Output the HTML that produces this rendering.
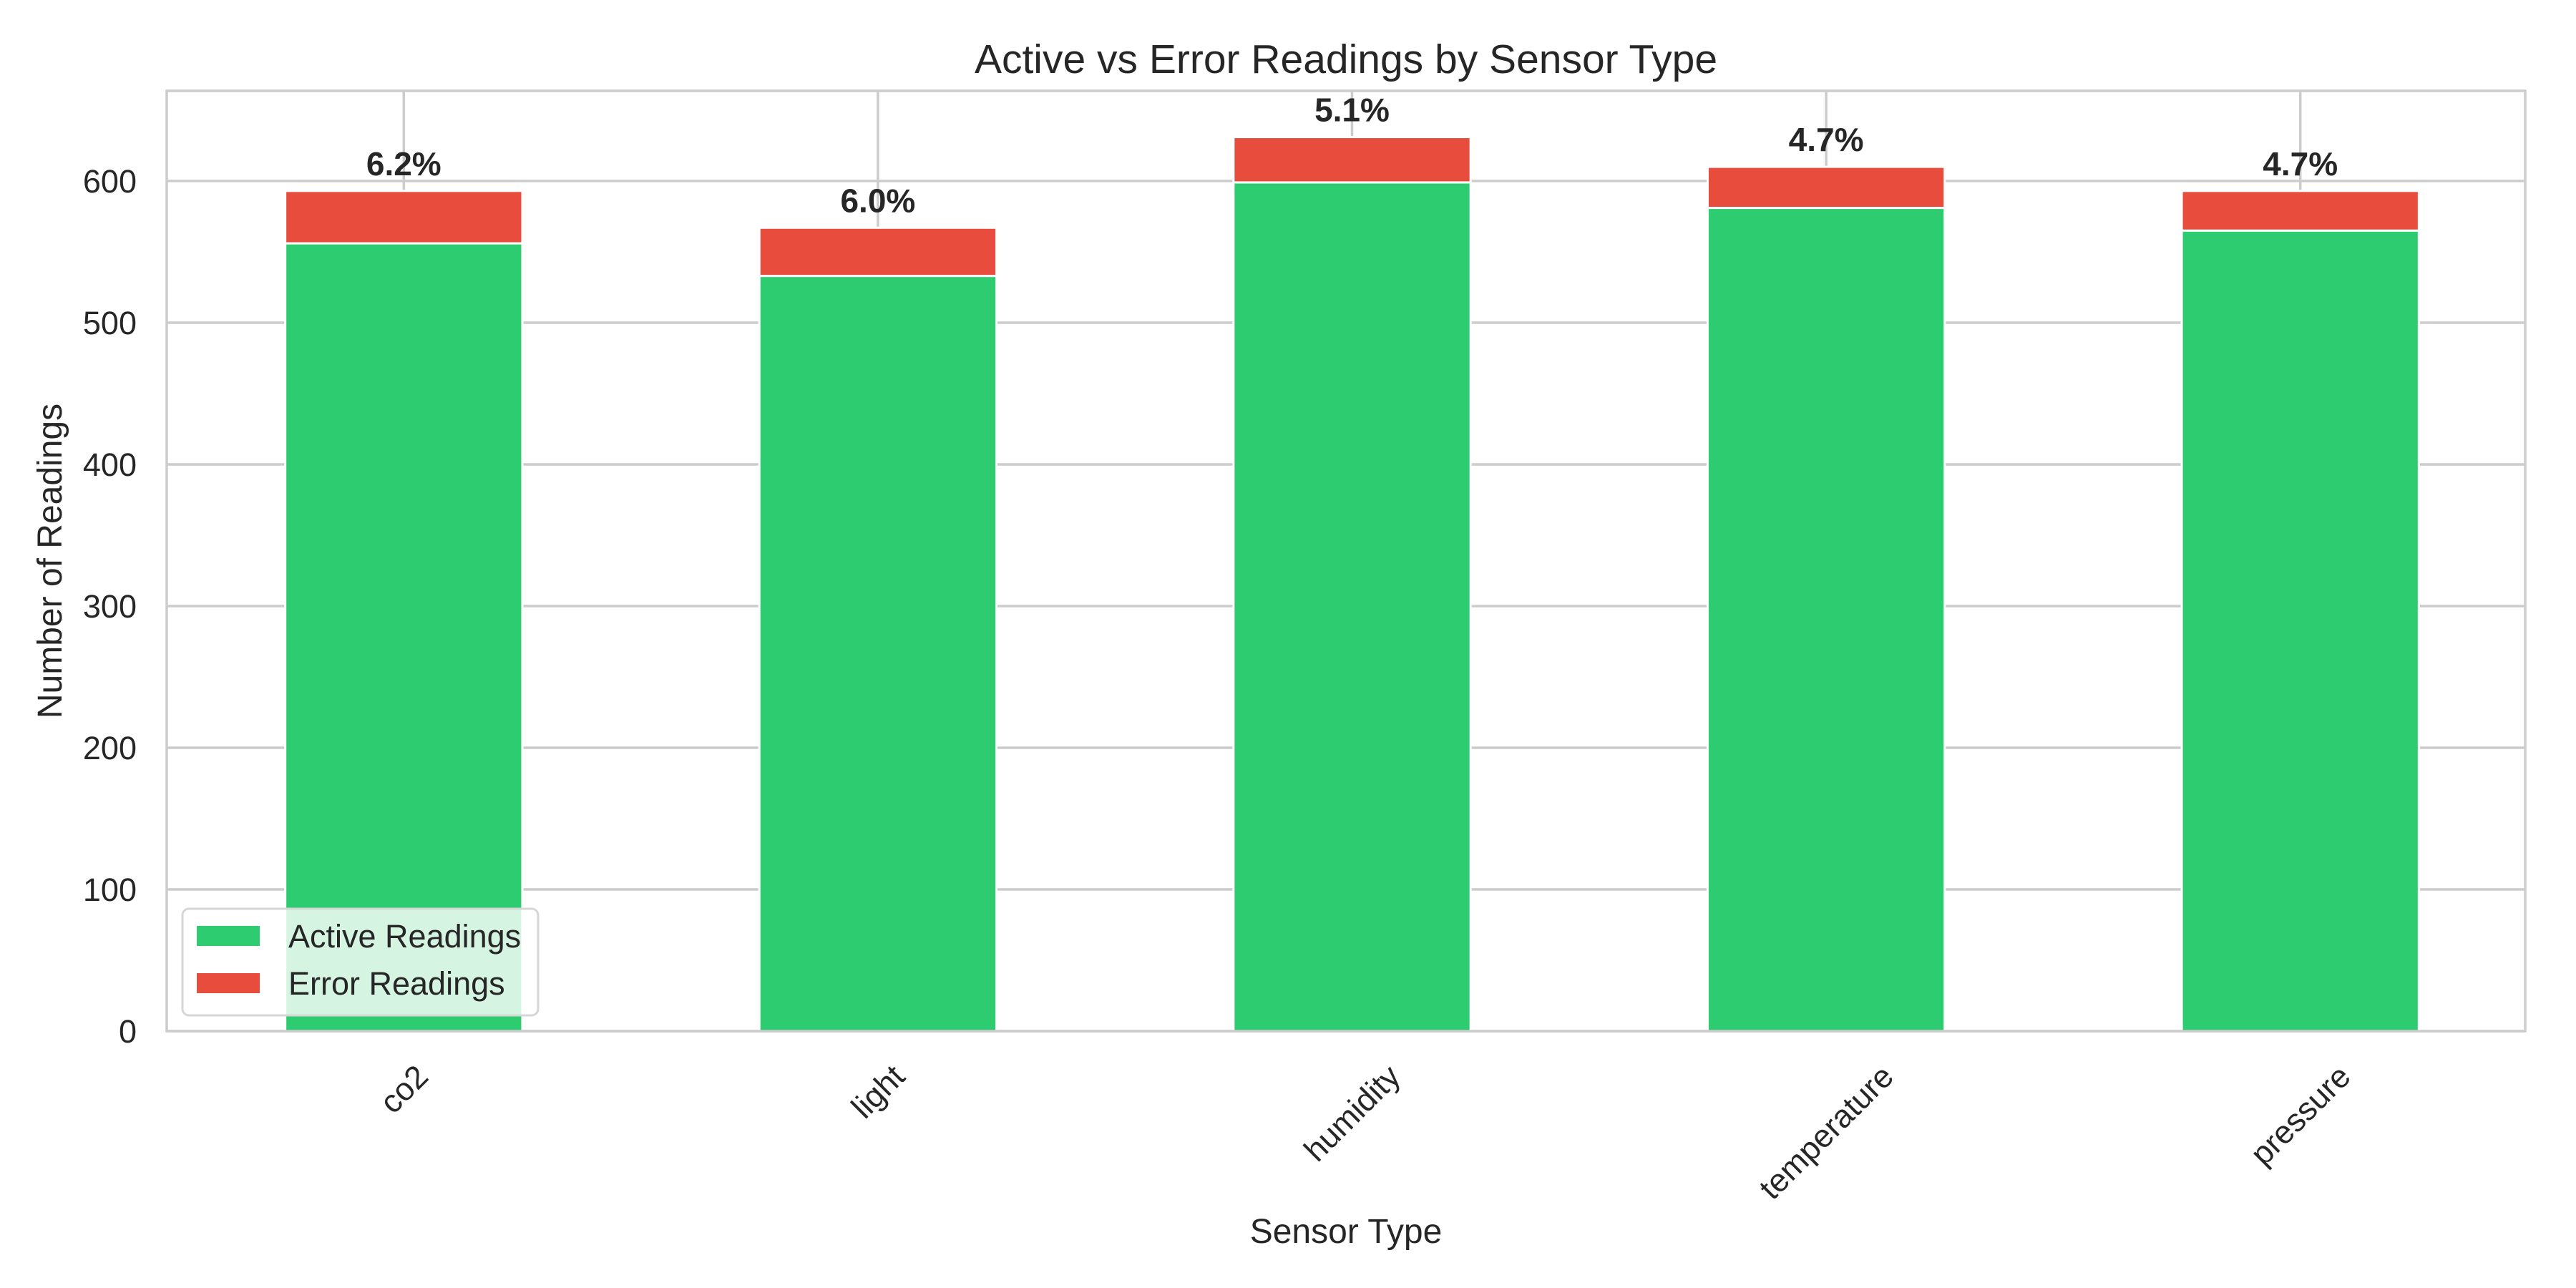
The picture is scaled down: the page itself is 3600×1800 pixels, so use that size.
<!DOCTYPE html>
<html><head><meta charset="utf-8"><style>
html,body{margin:0;padding:0;background:#fff;}
svg{display:block;font-family:"Liberation Sans",Arial,sans-serif;}
</style></head><body>
<svg id="chart" width="3600" height="1800" viewBox="0 0 3600 1800" xmlns="http://www.w3.org/2000/svg">
<rect x="0" y="0" width="3600" height="1800" fill="#fff"/>
<g id="grid"></g>
<g id="bars"></g>
<g id="labels"></g>
<rect x="233" y="127" width="3296" height="1314" fill="none" stroke="#cccccc" stroke-width="3.5"/>
<g id="yticks"></g>
<g id="xticks"></g>
<text x="1881" y="102" font-size="57" fill="#262626" text-anchor="middle">Active vs Error Readings by Sensor Type</text>
<text x="1881" y="1737" font-size="48" fill="#262626" text-anchor="middle">Sensor Type</text>
<text transform="translate(86,784) rotate(-90)" font-size="48" fill="#262626" text-anchor="middle">Number of Readings</text>
<g>
<rect x="255" y="1270" width="497" height="149" rx="9" fill="#fff" fill-opacity="0.8" stroke="#d6d6d6" stroke-width="3"/>
<rect x="275" y="1294" width="88" height="28" fill="#2ecc71"/>
<text x="403" y="1324" font-size="45" fill="#262626">Active Readings</text>
<rect x="275" y="1360" width="88" height="28" fill="#e74c3c"/>
<text x="403" y="1390" font-size="45" fill="#262626">Error Readings</text>
</g>
</svg>
<script>
const categories = ["co2", "light", "humidity", "temperature", "pressure"];
const activeValues = [556, 533, 599, 581, 565];
const errorValues = [37, 34, 32, 29, 28];
const pctLabels = ["6.2%", "6.0%", "5.1%", "4.7%", "4.7%"];
const yTicks = [0, 100, 200, 300, 400, 500, 600];

const NS = "http://www.w3.org/2000/svg";
const PL = 233, PR = 3529, PT = 127, PB = 1441, YMAX = 663.6;
const band = 662.6;
function xC(i) { return PL + band * (i + 0.5); }
function yS(v) { return PB - (v / YMAX) * (PB - PT); }
function mk(tag, attrs, parent) {
  const e = document.createElementNS(NS, tag);
  for (const k in attrs) e.setAttribute(k, attrs[k]);
  parent.appendChild(e);
  return e;
}
const grid = document.getElementById("grid");
const bars = document.getElementById("bars");
const labels = document.getElementById("labels");
const yt = document.getElementById("yticks");
const xt = document.getElementById("xticks");

yTicks.forEach(v => {
  const l = mk("line", {x1: PL, x2: PR, y1: yS(v), y2: yS(v), stroke: "#cccccc", "stroke-width": 3.5}, grid);
  
  
  const t = mk("text", {x: 191, y: yS(v) + 16, "font-size": 45, fill: "#262626", "text-anchor": "end"}, yt);
  t.textContent = String(v);
  
  
});
categories.forEach((c, i) => {
  const l = mk("line", {x1: xC(i), x2: xC(i), y1: PT, y2: PB, stroke: "#cccccc", "stroke-width": 3.5}, grid);
  
  
});
const bw = band * 0.5;
categories.forEach((c, i) => {
  const a = activeValues[i], e = errorValues[i];
  const ra = mk("rect", {x: xC(i) - bw / 2, y: yS(a), width: bw, height: yS(0) - yS(a), fill: "#2ecc71", stroke: "#fff", "stroke-width": 3}, bars);
  
  
  const re = mk("rect", {x: xC(i) - bw / 2, y: yS(a + e), width: bw, height: yS(a) - yS(a + e), fill: "#e74c3c", stroke: "#fff", "stroke-width": 3}, bars);
  
  
  const t = mk("text", {x: xC(i), y: yS(a + e) - 22, "font-size": 46, "font-weight": "bold", fill: "#262626", "text-anchor": "middle"}, labels);
  t.textContent = pctLabels[i];
  
  

  const xl = mk("text", {"font-size": 45, fill: "#262626", "text-anchor": "middle", "dominant-baseline": "central"}, xt);
  xl.textContent = c;
  
  
  const w = xl.getComputedTextLength();
  const h = 45 * 1.15;
  const cy = 1478 + (w + h) * 0.7071 / 2;
  xl.setAttribute("transform", "translate(" + xC(i) + "," + cy + ") rotate(-45)");
});
</script>
</body></html>
